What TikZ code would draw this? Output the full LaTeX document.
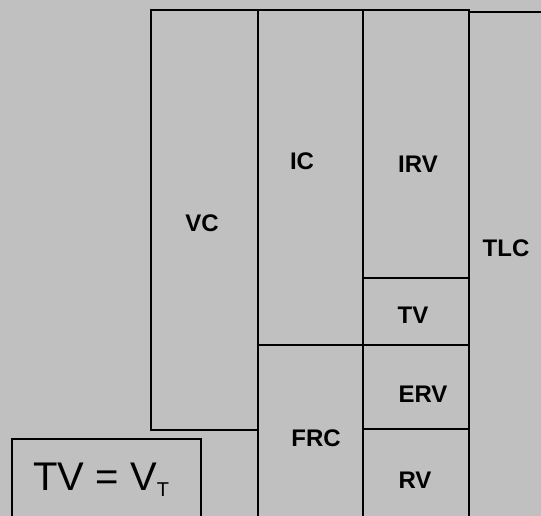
\documentclass[tikz,border=0pt]{standalone}
\usepackage{fontspec}
\setmainfont{Liberation Sans}
\definecolor{bggray}{RGB}{192,192,192}
\begin{document}
\begin{tikzpicture}[x=0.75pt,y=-0.75pt,line width=2.2pt,
    lbl/.style={inner sep=0pt,font=\fontsize{18}{20}\selectfont\bfseries}]
      \fill[bggray] (0,0) rectangle (541,516);
      \useasboundingbox (0,0) rectangle (541,516);
      \clip (0,0) rectangle (541,516);
      % volume columns
      \draw (151,10) rectangle (258,430);
      \draw (258,10) rectangle (363,345);
      \draw (258,345) rectangle (363,530);
      \draw (363,10) rectangle (469,278);
      \draw (363,278) rectangle (469,345);
      \draw (363,345) rectangle (469,429);
      \draw (363,429) rectangle (469,530);
      \draw (469,530) -- (469,12) -- (560,12);
      \draw[line width=1.7pt] (12,439) rectangle (201,530);
      % labels
      \node[lbl] (vc) at (202,223) {VC};
      \node[lbl] (ic) at (302,161) {IC};
      \node[lbl] (irv) at (418,164) {IRV};
      \node[lbl] (tlc) at (506,248) {TLC};
      \node[lbl] (tv) at (413,315) {TV};
      \node[lbl] (erv) at (423,394) {ERV};
      \node[lbl] (frc) at (316,438) {FRC};
      \node[lbl] (rv) at (415,480) {RV};
      \node[inner sep=0pt,anchor=base west,font=\fontsize{30}{34}\selectfont] (tvvt) at (32,490)
        {TV = V\raisebox{-4.5pt}{\fontsize{15}{17}\selectfont T}};
    \end{tikzpicture}
\end{document}
